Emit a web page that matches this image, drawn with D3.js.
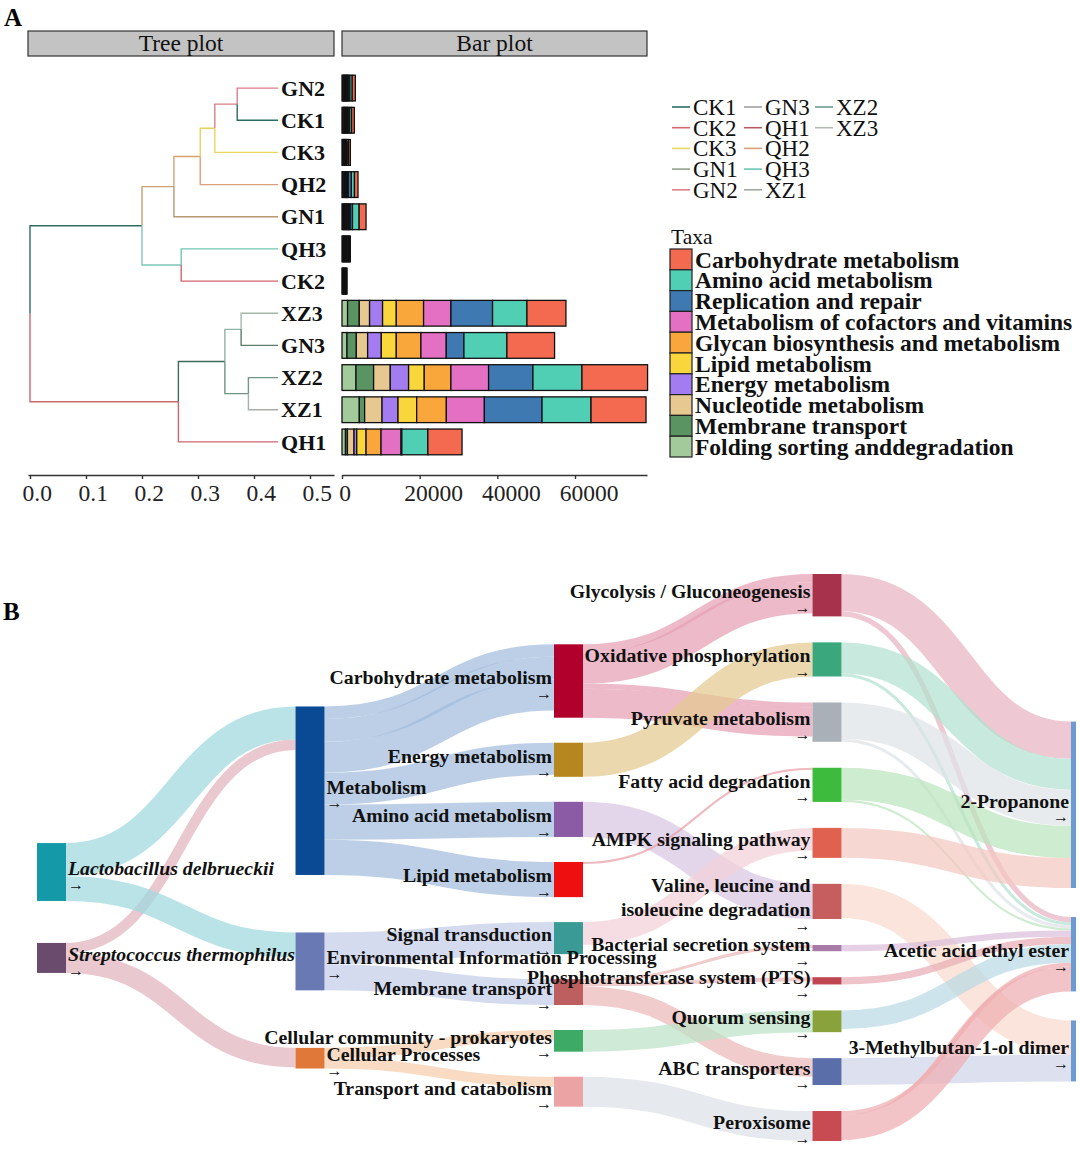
<!DOCTYPE html>
<html>
<head>
<meta charset="utf-8">
<script src="https://cdn.jsdelivr.net/npm/d3@7"></script>
<style>
body { margin: 0; background: #fff; }
svg { display: block; font-family: "Liberation Serif", "Times New Roman", serif; }
</style>
</head>
<body>
<svg id="chart" width="1080" height="1165"></svg>
<script>
// ---------- panel A data ----------
const samples = ["GN2", "CK1", "CK3", "QH2", "GN1", "QH3", "CK2", "XZ3", "GN3", "XZ2", "XZ1", "QH1"];

// [node, parent, distance from root]
const treeNodes = [
  ["root", "", 0],
  ["n1", "root", 0.200], ["n2", "n1", 0.257], ["n3", "n2", 0.304], ["n4", "n3", 0.330], ["n5", "n4", 0.370],
  ["n6", "n1", 0.270], ["n7", "root", 0.265], ["n8", "n7", 0.348], ["n9", "n8", 0.377], ["n10", "n8", 0.390],
  ["GN2", "n5", 0.443], ["CK1", "n5", 0.443], ["CK3", "n4", 0.443], ["QH2", "n3", 0.443], ["GN1", "n2", 0.443],
  ["QH3", "n6", 0.443], ["CK2", "n6", 0.443], ["XZ3", "n9", 0.443], ["GN3", "n9", 0.443],
  ["XZ2", "n10", 0.443], ["XZ1", "n10", 0.443], ["QH1", "n7", 0.443]
];
const treeTicks = [0, 0.1, 0.2, 0.3, 0.4, 0.5];

// stacked left to right
const taxa = ["Folding sorting anddegradation", "Membrane transport", "Nucleotide metabolism", "Energy metabolism",
  "Lipid metabolism", "Glycan biosynthesis and metabolism", "Metabolism of cofactors and vitamins",
  "Replication and repair", "Amino acid metabolism", "Carbohydrate metabolism"];

// one row per sample, same order as samples, values in taxa order
const abundance = [
  [230, 230, 230, 230, 230, 230, 230, 420, 600, 800],
  [230, 230, 230, 230, 230, 230, 230, 370, 500, 700],
  [160, 160, 160, 160, 160, 160, 160, 230, 350, 450],
  [230, 230, 230, 230, 230, 230, 230, 800, 800, 910],
  [300, 300, 300, 300, 300, 300, 300, 600, 1720, 1770],
  [215, 215, 215, 215, 215, 215, 215, 215, 215, 215],
  [130, 130, 130, 130, 130, 130, 130, 130, 130, 130],
  [1440, 3010, 2650, 3350, 3530, 7030, 7050, 10710, 8860, 10040],
  [1290, 2400, 2910, 3520, 3860, 6350, 6520, 4550, 11070, 12270],
  [3600, 4540, 4290, 4720, 4030, 6870, 9700, 11420, 12620, 16900],
  [4460, 1370, 4480, 4120, 4800, 7640, 9790, 14850, 12620, 14160],
  [900, 500, 1700, 700, 2400, 3860, 5150, 200, 6700, 8800]
];
const barTicks = [0, 20000, 40000, 60000];
const legendSamples = ["CK1", "CK2", "CK3", "GN1", "GN2", "GN3", "QH1", "QH2", "QH3", "XZ1", "XZ2", "XZ3"];

// ---------- panel B data ----------
const stages = [
  ["Lactobacillus delbrueckii", "Streptococcus thermophilus"],
  ["Metabolism", "Environmental Information Processing", "Cellular Processes"],
  ["Carbohydrate metabolism", "Energy metabolism", "Amino acid metabolism", "Lipid metabolism",
    "Signal transduction", "Membrane transport", "Cellular community - prokaryotes", "Transport and catabolism"],
  ["Glycolysis / Gluconeogenesis", "Oxidative phosphorylation", "Pyruvate metabolism", "Fatty acid degradation",
    "AMPK signaling pathway", "Valine, leucine and isoleucine degradation", "Bacterial secretion system",
    "Phosphotransferase system (PTS)", "Quorum sensing", "ABC transporters", "Peroxisome"],
  ["2-Propanone", "Acetic acid ethyl ester", "3-Methylbutan-1-ol dimer"]
];

const flows = [
  ["Lactobacillus delbrueckii", "Metabolism", 32],
  ["Streptococcus thermophilus", "Metabolism", 10],
  ["Lactobacillus delbrueckii", "Environmental Information Processing", 24],
  ["Streptococcus thermophilus", "Cellular Processes", 19],
  ["Metabolism", "Carbohydrate metabolism", 12],
  ["Metabolism", "Carbohydrate metabolism", 22],
  ["Metabolism", "Carbohydrate metabolism", 30],
  ["Metabolism", "Energy metabolism", 31],
  ["Metabolism", "Amino acid metabolism", 34],
  ["Metabolism", "Lipid metabolism", 34],
  ["Environmental Information Processing", "Signal transduction", 31],
  ["Environmental Information Processing", "Membrane transport", 25],
  ["Cellular Processes", "Cellular community - prokaryotes", 10],
  ["Cellular Processes", "Transport and catabolism", 10],
  ["Carbohydrate metabolism", "Glycolysis / Gluconeogenesis", 8],
  ["Carbohydrate metabolism", "Glycolysis / Gluconeogenesis", 30],
  ["Carbohydrate metabolism", "Pyruvate metabolism", 5],
  ["Carbohydrate metabolism", "Pyruvate metabolism", 28],
  ["Energy metabolism", "Oxidative phosphorylation", 33],
  ["Amino acid metabolism", "Valine, leucine and isoleucine degradation", 34],
  ["Lipid metabolism", "Fatty acid degradation", 2],
  ["Signal transduction", "AMPK signaling pathway", 22],
  ["Membrane transport", "Bacterial secretion system", 3],
  ["Membrane transport", "Phosphotransferase system (PTS)", 4],
  ["Membrane transport", "ABC transporters", 18],
  ["Cellular community - prokaryotes", "Quorum sensing", 21],
  ["Transport and catabolism", "Peroxisome", 29],
  ["Glycolysis / Gluconeogenesis", "2-Propanone", 36],
  ["Glycolysis / Gluconeogenesis", "Acetic acid ethyl ester", 5],
  ["Oxidative phosphorylation", "2-Propanone", 30],
  ["Oxidative phosphorylation", "Acetic acid ethyl ester", 3],
  ["Pyruvate metabolism", "2-Propanone", 35],
  ["Pyruvate metabolism", "Acetic acid ethyl ester", 3],
  ["Fatty acid degradation", "2-Propanone", 31],
  ["Fatty acid degradation", "Acetic acid ethyl ester", 2],
  ["AMPK signaling pathway", "2-Propanone", 29],
  ["Valine, leucine and isoleucine degradation", "3-Methylbutan-1-ol dimer", 33],
  ["Bacterial secretion system", "Acetic acid ethyl ester", 6],
  ["Phosphotransferase system (PTS)", "Acetic acid ethyl ester", 7],
  ["Quorum sensing", "Acetic acid ethyl ester", 18],
  ["ABC transporters", "3-Methylbutan-1-ol dimer", 26],
  ["Peroxisome", "Acetic acid ethyl ester", 4],
  ["Peroxisome", "Acetic acid ethyl ester", 24]
];

// ---------- styles ----------
const edgeColor = {
  GN2: "#da7f8b", CK1: "#2c6d61", CK3: "#e7d85a", QH2: "#d9a27c", GN1: "#b99870", QH3: "#72c6b5",
  CK2: "#d3646f", XZ3: "#a2b9aa", GN3: "#5e7d6e", XZ2: "#739585", XZ1: "#a8aea8", QH1: "#cc6670",
  n1: "#2e6e60", n2: "#cca070", n3: "#d6a472", n4: "#e6d35a", n5: "#d98088", n6: "#7fc8b8",
  n7: "#cc6670", n8: "#3e6a5a", n9: "#93b2a6", n10: "#6f9484"
};
const legendColor = {
  CK1: "#2a6e62", CK2: "#d66670", CK3: "#e8dc5c", GN1: "#8ea28e", GN2: "#dc7f8c", GN3: "#a0a0a0",
  QH1: "#b85a66", QH2: "#d8a080", QH3: "#70c4b4", XZ1: "#a4aaa6", XZ2: "#6e9a8e", XZ3: "#b4bab4"
};
const taxaColor = d3.scaleOrdinal(taxa, ["#a2ca9a", "#5a9462", "#e7c891", "#a27cf0", "#f9d73c",
  "#f9a63a", "#e470c4", "#3f79b2", "#50cfb4", "#f46a50"]);

const nodeColor = {
  "Lactobacillus delbrueckii": "#1499a9", "Streptococcus thermophilus": "#6b4b6d",
  "Metabolism": "#0a4a95", "Environmental Information Processing": "#6879b4", "Cellular Processes": "#e0783a",
  "Carbohydrate metabolism": "#b1002c", "Energy metabolism": "#b7871f", "Amino acid metabolism": "#8b5ca5",
  "Lipid metabolism": "#ee1010", "Signal transduction": "#3a9a96", "Membrane transport": "#bd5f5f",
  "Cellular community - prokaryotes": "#3dab66", "Transport and catabolism": "#eba3a3",
  "Glycolysis / Gluconeogenesis": "#a6334b", "Oxidative phosphorylation": "#3aa77c",
  "Pyruvate metabolism": "#a9b0b7", "Fatty acid degradation": "#3cbb3c", "AMPK signaling pathway": "#e0614f",
  "Valine, leucine and isoleucine degradation": "#c55e5c", "Bacterial secretion system": "#a77aa8",
  "Phosphotransferase system (PTS)": "#bf4651", "Quorum sensing": "#8aa23c", "ABC transporters": "#5a6ea9",
  "Peroxisome": "#c94b52", "2-Propanone": "#6b9bd1", "Acetic acid ethyl ester": "#6b9bd1",
  "3-Methylbutan-1-ol dimer": "#6b9bd1"
};
const flowColor = {
  "Lactobacillus delbrueckii": "#9fd8df", "Streptococcus thermophilus": "#e0b4bd",
  "Metabolism": "#a3bcdc", "Environmental Information Processing": "#c5cde7", "Cellular Processes": "#f5cdaa",
  "Carbohydrate metabolism": "#e6a0b4", "Energy metabolism": "#e3c990", "Amino acid metabolism": "#d8c6e3",
  "Lipid metabolism": "#e8a0a8", "Signal transduction": "#f2d0d8", "Membrane transport": "#ebb8b8",
  "Cellular community - prokaryotes": "#bde2c6", "Transport and catabolism": "#dde0e7",
  "Glycolysis / Gluconeogenesis": "#e7b3c0", "Oxidative phosphorylation": "#b3e1d0",
  "Pyruvate metabolism": "#dfe3e8", "Fatty acid degradation": "#bbe5bc", "AMPK signaling pathway": "#f4c8c1",
  "Valine, leucine and isoleucine degradation": "#f9d9cd", "Bacterial secretion system": "#dbbedb",
  "Phosphotransferase system (PTS)": "#e7adb5", "Quorum sensing": "#bad9e5", "ABC transporters": "#d0d6e9",
  "Peroxisome": "#eeadb2"
};
const wrapLabel = {
  "Valine, leucine and isoleucine degradation": ["Valine, leucine and", "isoleucine degradation"]
};
const italicLabel = new Set(["Lactobacillus delbrueckii", "Streptococcus thermophilus"]);

const svg = d3.select("#chart");

// ---------- panel A ----------
svg.append("text").attr("x", 4).attr("y", 26).attr("font-size", 25).attr("font-weight", "bold").text("A");

const strips = [["Tree plot", 28, 334], ["Bar plot", 342, 647]];
strips.forEach(([label, a, b]) => {
  svg.append("rect").attr("x", a).attr("y", 31).attr("width", b - a).attr("height", 25)
    .attr("fill", "#c3c3c3").attr("stroke", "#333").attr("stroke-width", 1.2);
  svg.append("text").attr("x", (a + b) / 2).attr("y", 51).attr("text-anchor", "middle")
    .attr("font-size", 23.5).attr("fill", "#111").text(label);
});

const yRow = d3.scaleBand().domain(samples).range([72, 458]).paddingInner(0.2).paddingOuter(0.1);
const xTree = d3.scaleLinear().domain([0, 0.5]).range([30, 310]);

const tree = d3.stratify().id(d => d[0]).parentId(d => d[1] || null)(treeNodes);
tree.eachAfter(n => {
  n.yPos = n.children ? d3.mean(n.children, c => c.yPos) : yRow(n.id) + yRow.bandwidth() / 2;
});

svg.append("g").attr("fill", "none").attr("stroke-width", 1.4)
  .selectAll("path")
  .data(tree.descendants().filter(n => n.parent))
  .join("path")
  .attr("stroke", n => edgeColor[n.id])
  .attr("d", n => `M${xTree(n.parent.data[2])},${n.parent.yPos}V${n.yPos}H${xTree(n.data[2])}`);

svg.append("g").attr("font-size", 22).attr("font-weight", "bold").attr("fill", "#111")
  .selectAll("text")
  .data(tree.leaves())
  .join("text")
  .attr("x", n => xTree(n.data[2]) + 3)
  .attr("y", n => n.yPos)
  .attr("dy", "0.35em")
  .text(n => n.id);

// tick labels sit a little right of their ticks, as in the original
const styleAxis = g => {
  g.attr("font-family", null);
  g.selectAll("path, line").attr("stroke", "#333").attr("stroke-width", 1.4);
  g.selectAll("text").attr("font-size", 23.5).attr("fill", "#222")
    .attr("text-anchor", "start")
    .attr("x", function () { return -0.27 * this.getComputedTextLength(); });
};

const treeAxisScale = d3.scaleLinear().domain([xTree.invert(28), xTree.invert(334)]).range([28, 334]);
svg.append("g").attr("transform", "translate(0,475)")
  .call(d3.axisBottom(treeAxisScale).tickValues(treeTicks).tickFormat(d3.format(".1f"))
    .tickSizeOuter(0).tickSizeInner(4).tickPadding(5))
  .call(styleAxis);

// bars
const xBar = d3.scaleLinear().domain([0, 60000]).range([342, 575]);
const barRows = samples.map((s, i) => Object.assign({sample: s}, Object.fromEntries(taxa.map((t, j) => [t, abundance[i][j]]))));
const stacked = d3.stack().keys(taxa)(barRows);

svg.append("g").attr("stroke", "#111").attr("stroke-width", 1.3)
  .selectAll("g")
  .data(stacked)
  .join("g")
  .attr("fill", s => taxaColor(s.key))
  .selectAll("rect")
  .data(s => s)
  .join("rect")
  .attr("x", d => xBar(d[0]))
  .attr("width", d => xBar(d[1]) - xBar(d[0]))
  .attr("y", d => yRow(d.data.sample))
  .attr("height", yRow.bandwidth());

const barAxisScale = d3.scaleLinear().domain([0, xBar.invert(647)]).range([342, 647]);
svg.append("g").attr("transform", "translate(0,475)")
  .call(d3.axisBottom(barAxisScale).tickValues(barTicks).tickFormat(d3.format("d"))
    .tickSizeOuter(0).tickSizeInner(4).tickPadding(5))
  .call(styleAxis);

// sample line legend (column-major, 5 per column)
const legCols = [672, 744, 815];
const lg = svg.append("g").attr("font-size", 23).attr("fill", "#111");
legendSamples.forEach((s, i) => {
  const cx = legCols[Math.floor(i / 5)], cy = 107 + (i % 5) * 20.7;
  lg.append("line").attr("x1", cx).attr("x2", cx + 18).attr("y1", cy).attr("y2", cy)
    .attr("stroke", legendColor[s]).attr("stroke-width", 1.6);
  lg.append("text").attr("x", cx + 21).attr("y", cy).attr("dy", "0.35em").text(s);
});

// taxa legend
svg.append("text").attr("x", 671).attr("y", 244).attr("font-size", 21.5).attr("fill", "#111").text("Taxa");
const tl = svg.append("g");
taxa.slice().reverse().forEach((t, i) => {
  const top = 249 + i * 20.8;
  tl.append("rect").attr("x", 670).attr("y", top).attr("width", 22).attr("height", 20.8)
    .attr("fill", taxaColor(t)).attr("stroke", "#222").attr("stroke-width", 1.2);
  tl.append("text").attr("x", 695).attr("y", top + 10.4).attr("dy", "0.35em")
    .attr("font-size", 23.5).attr("font-weight", "bold").attr("fill", "#111").text(t);
});

// ---------- panel B : sankey ----------
svg.append("text").attr("x", 3).attr("y", 620).attr("font-size", 25).attr("font-weight", "bold").text("B");

// each column is a block of nodes (height = max(in, out) * ky) with its own spacing and shift
function sankeyLayout(stages, flows, o) {
  const nodes = [], byName = new Map();
  stages.forEach((col, depth) => col.forEach(name => {
    const n = {name, depth, sourceLinks: [], targetLinks: []};
    nodes.push(n); byName.set(name, n);
  }));
  const links = flows.map(([s, t, v], index) => {
    const l = {source: byName.get(s), target: byName.get(t), value: v, index};
    l.source.sourceLinks.push(l); l.target.targetLinks.push(l);
    return l;
  });
  nodes.forEach(n => n.value = Math.max(d3.sum(n.sourceLinks, l => l.value), d3.sum(n.targetLinks, l => l.value)));

  const maxDepth = stages.length - 1;
  const xCol = d3.scaleLinear().domain([0, maxDepth]).range([o.x0, o.x1 - o.lastWidth]);
  nodes.forEach(n => {
    n.x0 = xCol(n.depth);
    n.x1 = n.x0 + (n.depth === maxDepth ? o.lastWidth : o.nodeWidth);
  });

  const columns = stages.map(col => col.map(name => byName.get(name)));
  const ky = d3.min(columns, (c, i) => (o.y1 - o.y0 - (c.length - 1) * o.gaps[i]) / d3.sum(c, n => n.value));
  const mid = (o.y0 + o.y1) / 2;
  columns.forEach((col, i) => {
    const total = d3.sum(col, n => n.value) * ky + (col.length - 1) * o.gaps[i];
    let y = mid + o.shifts[i] - total / 2;
    col.forEach(n => { n.y0 = y; n.y1 = y + n.value * ky; y = n.y1 + o.gaps[i]; });
  });
  links.forEach(l => l.width = l.value * ky);

  nodes.forEach(n => {
    n.sourceLinks.sort((a, b) => a.target.y0 - b.target.y0 || a.index - b.index);
    n.targetLinks.sort((a, b) => a.source.y0 - b.source.y0 || a.index - b.index);
    let a = n.y0, b = n.y0;
    n.sourceLinks.forEach(l => { l.y0 = a + l.width / 2; a += l.width; });
    n.targetLinks.forEach(l => { l.y1 = b + l.width / 2; b += l.width; });
  });
  return {nodes, links};
}

const graph = sankeyLayout(stages, flows, {
  x0: 37, x1: 1076, y0: 596, y1: 1163, nodeWidth: 29, lastWidth: 5,
  gaps: [42, 57.5, 25, 26, 29], shifts: [28.5, 8, -4, -22, 22]
});

svg.append("g").attr("fill", "none")
  .selectAll("path")
  .data(graph.links)
  .join("path")
  .attr("d", d3.linkHorizontal().source(l => [l.source.x1, l.y0]).target(l => [l.target.x0, l.y1]))
  .attr("stroke", l => flowColor[l.source.name])
  .attr("stroke-opacity", 0.72)
  .attr("stroke-width", l => Math.max(1.5, l.width));

svg.append("g")
  .selectAll("rect")
  .data(graph.nodes)
  .join("rect")
  .attr("x", n => n.x0).attr("y", n => n.y0)
  .attr("width", n => n.x1 - n.x0).attr("height", n => Math.max(4, n.y1 - n.y0))
  .attr("fill", n => nodeColor[n.name]);

const lab = svg.append("g").attr("fill", "#111");
graph.nodes.forEach(n => {
  const left = n.depth < 2;
  const x = left ? n.x1 + 2 : n.x0 - 2;
  const anchor = left ? "start" : "end";
  const lines = wrapLabel[n.name] || [n.name];
  const cy = (n.y0 + n.y1) / 2 - 4 - (lines.length - 1) * 12;
  lines.forEach((line, i) => {
    lab.append("text").attr("x", x).attr("y", cy + i * 24).attr("dy", "0.35em")
      .attr("text-anchor", anchor).attr("font-size", 19.8).attr("font-weight", "bold")
      .attr("font-style", italicLabel.has(n.name) ? "italic" : null).text(line);
  });
  lab.append("text").attr("x", x).attr("y", cy + (lines.length - 1) * 24 + 16).attr("dy", "0.35em")
    .attr("text-anchor", anchor).attr("font-size", 16).text("→");
});
</script>
</body>
</html>
